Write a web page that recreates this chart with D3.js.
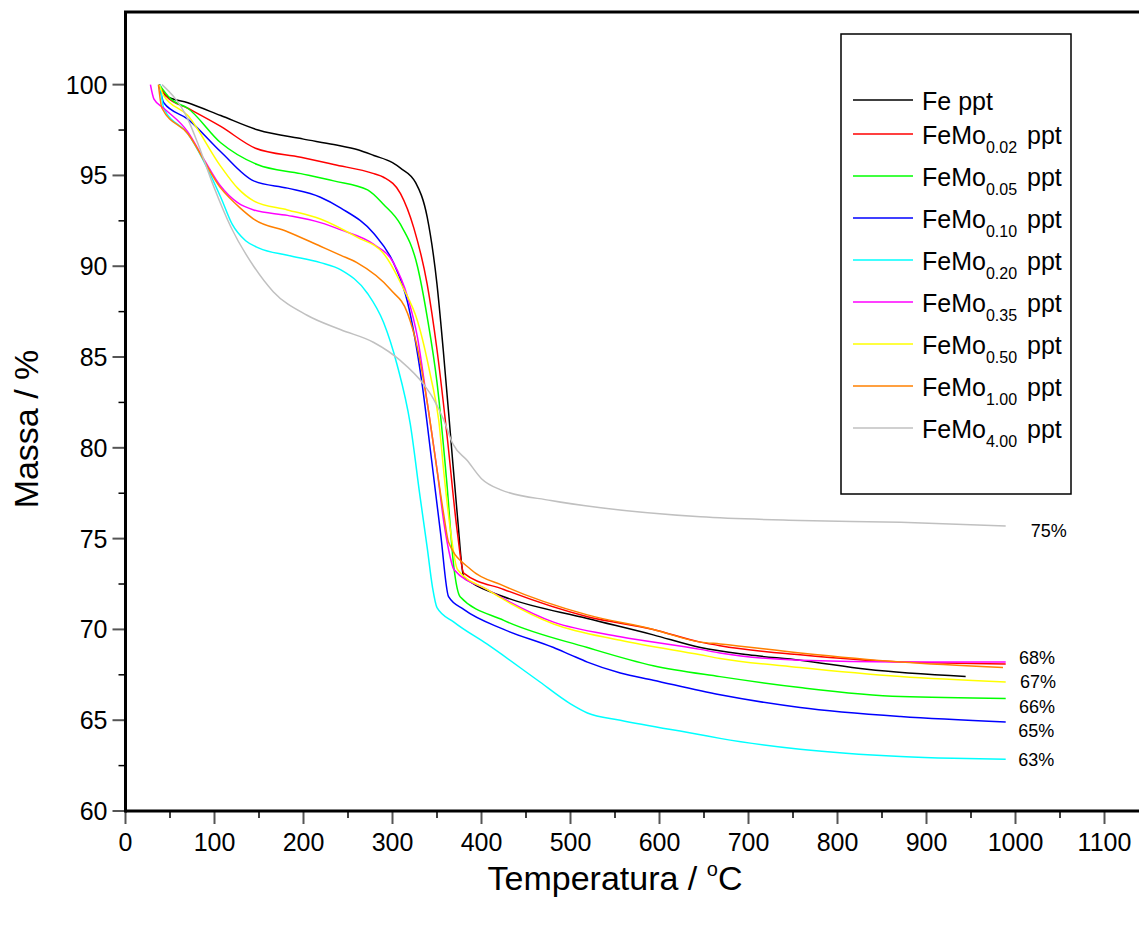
<!DOCTYPE html>
<html>
<head>
<meta charset="utf-8">
<script src="https://cdn.jsdelivr.net/npm/d3@7"></script>
<style>
  html, body { margin: 0; padding: 0; background: #fff; overflow: hidden; }
  svg { display: block; font-family: "Liberation Sans", Arial, Helvetica, sans-serif; }
</style>
</head>
<body>
<div id="chart"></div>
<script>
// TG curves, [temperature °C, mass %]
const fePpt = [[38,100],[45,99.4],[70,99.0],[107,98.3],[149,97.5],[200,97.0],[234,96.7],[262,96.4],[279,96.1],[300,95.7],[309,95.4],[326,94.6],[339,92.7],[350,89.0],[357,85.4],[365,80.8],[373,76.2],[380,72.9],[388,72.6],[425,71.8],[519,70.6],[593,69.7],[646,69.0],[700,68.6],[758,68.3],[833,67.8],[944,67.4]];
const feMo002 = [[38,100],[47,99.3],[70,98.7],[107,97.7],[146,96.5],[197,96.0],[234,95.6],[279,95.1],[290,94.9],[309,94.0],[324,92.1],[339,89.0],[350,85.4],[361,80.8],[373,75.3],[380,73.1],[425,72.2],[519,70.7],[593,70.0],[646,69.3],[668,69.1],[758,68.6],[871,68.2],[989,68.1]];
const feMo005 = [[38,100],[51,99.2],[70,98.7],[107,96.8],[148,95.6],[197,95.1],[234,94.7],[272,94.2],[290,93.4],[309,92.3],[328,90.0],[339,87.2],[350,83.6],[361,78.1],[369,73.4],[376,71.8],[425,70.5],[519,69.0],[593,68.0],[668,67.4],[758,66.8],[871,66.3],[989,66.2]];
const feMo010 = [[38,100],[43,99.0],[70,98.1],[107,96.3],[144,94.7],[182,94.3],[219,93.8],[242,93.2],[279,91.8],[301,90.2],[317,88.0],[333,83.6],[344,79.3],[354,75.3],[363,71.8],[380,71.1],[425,70.0],[481,69.0],[500,68.6],[519,68.2],[556,67.6],[593,67.2],[668,66.4],[758,65.7],[871,65.2],[989,64.9]];
const feMo020 = [[39,100],[43,98.7],[70,97.3],[107,93.8],[120,92.3],[135,91.4],[150,91.0],[182,90.6],[219,90.2],[242,89.8],[272,88.5],[290,86.9],[305,84.6],[320,81.3],[331,77.3],[339,74.5],[345,72.3],[350,71.2],[369,70.4],[406,69.2],[463,67.2],[500,65.9],[519,65.4],[556,65.0],[646,64.2],[668,64.0],[758,63.4],[871,63.0],[930,62.9],[989,62.85]];
const feMo035 = [[28,100],[32,99.2],[43,98.7],[70,97.4],[88,95.9],[107,94.4],[126,93.5],[144,93.1],[182,92.8],[219,92.4],[242,92.0],[279,91.2],[301,90.2],[317,88.3],[328,86.1],[339,82.5],[350,78.8],[358,75.8],[363,74.4],[369,73.3],[406,72.2],[481,70.4],[556,69.6],[646,68.9],[668,68.7],[758,68.3],[871,68.2],[989,68.2]];
const feMo050 = [[38,100],[43,99.4],[70,98.3],[107,95.5],[126,94.3],[144,93.6],[182,93.1],[219,92.6],[260,91.6],[290,90.7],[312,88.8],[328,87.0],[343,83.9],[352,81.5],[358,78.5],[365,75.5],[373,73.3],[406,72.2],[481,70.3],[556,69.4],[646,68.6],[668,68.4],[758,67.9],[871,67.4],[989,67.1]];
const feMo100 = [[37,100],[41,98.7],[70,97.3],[107,94.3],[129,93.2],[144,92.6],[182,91.9],[219,91.1],[242,90.6],[260,90.2],[298,88.7],[317,87.4],[328,85.5],[339,82.5],[350,78.8],[358,76.2],[363,74.8],[388,73.3],[425,72.4],[519,70.8],[593,70.0],[646,69.3],[668,69.2],[758,68.7],[871,68.2],[986,67.9]];
const feMo400 = [[41,100],[70,98.1],[81,96.8],[99,94.4],[118,92.2],[144,90.0],[166,88.6],[204,87.3],[242,86.5],[279,85.8],[309,84.8],[335,83.5],[346,82.7],[357,81.6],[368,80.2],[384,79.3],[400,78.3],[421,77.7],[478,77.1],[534,76.7],[646,76.2],[758,76.0],[871,75.9],[989,75.7]];

const seriesData = [fePpt, feMo002, feMo005, feMo010, feMo020, feMo035, feMo050, feMo100, feMo400];
const seriesMain = ['Fe', 'FeMo', 'FeMo', 'FeMo', 'FeMo', 'FeMo', 'FeMo', 'FeMo', 'FeMo'];
const seriesSub = ['', '0.02', '0.05', '0.10', '0.20', '0.35', '0.50', '1.00', '4.00'];
const seriesColors = ['#000000', '#ff0000', '#00ff00', '#0000ff', '#00ffff', '#ff00ff', '#ffff00', '#ff8000', '#c0c0c0'];

// end-of-run residue labels: [text, T, mass]
const residueLabels = [['75%', 1017, 75.4], ['68%', 1004, 68.4], ['67%', 1005, 67.1], ['66%', 1004, 65.7], ['65%', 1003, 64.4], ['63%', 1003, 62.8]];

const xTicks = d3.range(0, 1101, 100);
const xMinor = d3.range(50, 1101, 100);
const yTicks = d3.range(60, 101, 5);
const yMinor = d3.range(62.5, 100, 5);

const width = 1139, height = 926;
const svg = d3.select('#chart').append('svg')
    .attr('width', width)
    .attr('height', height);

const x = d3.scaleLinear().domain([0, 1150]).range([125.5, 125.5 + 1150 * 0.89]);
const y = d3.scaleLinear().domain([60, 104]).range([811, 12]);

// curves
const line = d3.line()
    .x(d => x(d[0]))
    .y(d => y(d[1]))
    .curve(d3.curveMonotoneX);

seriesData.forEach((s, i) => {
    svg.append('path')
        .datum(s)
        .attr('d', line)
        .attr('fill', 'none')
        .attr('stroke', seriesColors[i])
        .attr('stroke-width', 1.5);
});

// ticks
svg.append('g').selectAll('line').data(xTicks).join('line')
    .attr('x1', d => x(d)).attr('x2', d => x(d))
    .attr('y1', y(60)).attr('y2', y(60) + 13)
    .attr('stroke', '#555').attr('stroke-width', 2);
svg.append('g').selectAll('line').data(xMinor).join('line')
    .attr('x1', d => x(d)).attr('x2', d => x(d))
    .attr('y1', y(60)).attr('y2', y(60) + 7)
    .attr('stroke', '#000').attr('stroke-width', 1.5);
svg.append('g').selectAll('line').data(yTicks).join('line')
    .attr('x1', x(0) - 13).attr('x2', x(0))
    .attr('y1', d => y(d)).attr('y2', d => y(d))
    .attr('stroke', '#555').attr('stroke-width', 2);
svg.append('g').selectAll('line').data(yMinor).join('line')
    .attr('x1', x(0) - 7).attr('x2', x(0))
    .attr('y1', d => y(d)).attr('y2', d => y(d))
    .attr('stroke', '#000').attr('stroke-width', 1.5);

// tick labels
svg.append('g').selectAll('text').data(xTicks).join('text')
    .attr('x', d => x(d))
    .attr('y', y(60) + 40)
    .attr('text-anchor', 'middle')
    .attr('font-size', '25px')
    .text(d => d);
svg.append('g').selectAll('text').data(yTicks).join('text')
    .attr('x', x(0) - 18)
    .attr('y', d => y(d) + 9)
    .attr('text-anchor', 'end')
    .attr('font-size', '25px')
    .text(d => d);

// frame: left, bottom, top (right edge runs off the page)
svg.append('line').attr('x1', x(0)).attr('x2', x(0)).attr('y1', y(104)).attr('y2', y(60) + 1.5)
    .attr('stroke', '#000').attr('stroke-width', 3);
svg.append('line').attr('x1', x(0)).attr('x2', x(1150)).attr('y1', y(60)).attr('y2', y(60))
    .attr('stroke', '#000').attr('stroke-width', 3);
svg.append('line').attr('x1', x(0) - 1.5).attr('x2', x(1150)).attr('y1', y(104)).attr('y2', y(104))
    .attr('stroke', '#000').attr('stroke-width', 3);

// axis titles
const xt = svg.append('text')
    .attr('x', 615).attr('y', 890)
    .attr('text-anchor', 'middle')
    .attr('font-size', '34px');
xt.append('tspan').text('Temperatura / ');
xt.append('tspan').attr('font-size', '20px').attr('dy', -14).text('o');
xt.append('tspan').attr('dy', 14).text('C');

svg.append('text')
    .attr('transform', 'translate(38,429) rotate(-90)')
    .attr('text-anchor', 'middle')
    .attr('font-size', '34px')
    .text('Massa / %');

// residue labels
svg.append('g').selectAll('text').data(residueLabels).join('text')
    .attr('x', d => x(d[1]))
    .attr('y', d => y(d[2]) + 6)
    .attr('font-size', '18px')
    .text(d => d[0]);

// legend
svg.append('rect')
    .attr('x', 841).attr('y', 34)
    .attr('width', 230).attr('height', 460)
    .attr('fill', '#fff')
    .attr('stroke', '#000').attr('stroke-width', 1.5);

seriesData.forEach((s, i) => {
    const ly = i === 0 ? 100 : 134 + 42 * (i - 1);
    svg.append('line')
        .attr('x1', 853).attr('x2', 913)
        .attr('y1', ly).attr('y2', ly)
        .attr('stroke', seriesColors[i]).attr('stroke-width', 1.5);
    const t = svg.append('text')
        .attr('x', 922).attr('y', ly + 9.5)
        .attr('font-size', '25px');
    t.append('tspan').text(seriesMain[i]);
    if (seriesSub[i]) {
        t.append('tspan').attr('font-size', '16px').attr('dy', 9.5).text(seriesSub[i]);
        t.append('tspan').attr('dy', -9.5).attr('dx', 10).text('ppt');
    } else {
        t.append('tspan').attr('dx', 7).text('ppt');
    }
});
</script>
</body>
</html>
